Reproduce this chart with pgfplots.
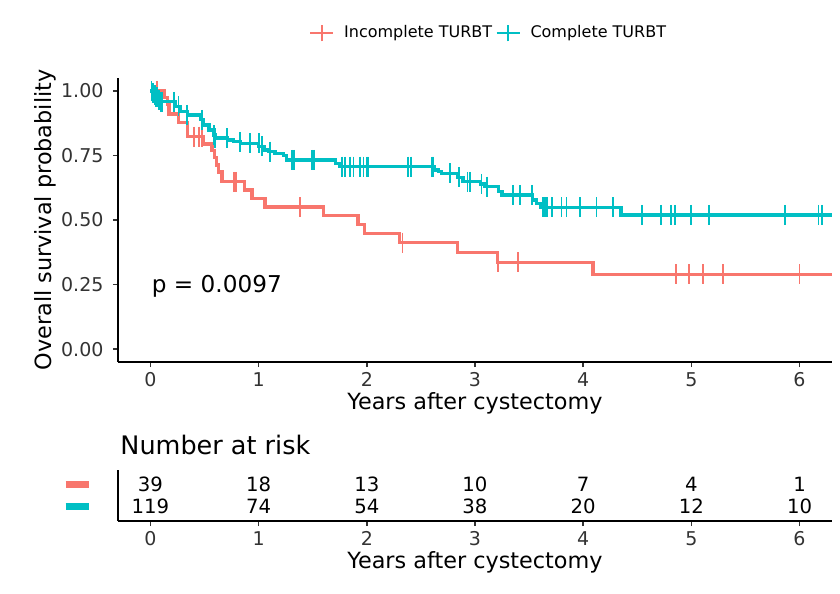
\documentclass[border=0pt]{standalone}
\usepackage{fontspec}
\setmainfont{DejaVu Sans}
\usepackage{pgfplots}
\pgfplotsset{compat=1.18}
\definecolor{cred}{HTML}{F8766D}
\definecolor{cblue}{HTML}{00BFC4}

\begin{document}
\begin{tikzpicture}
\path[use as bounding box] (0,0) rectangle (504pt,-356.4pt);
\pgfplotsset{
  common/.style={
    scale only axis, width=428.4pt,
    xmin=-0.3, xmax=6.3,
    axis x line*=bottom, axis y line*=left,
    axis line style={line width=0.9pt, black, -},
    tick style={line width=0.9pt, black!80},
    tick align=outside, major tick length=3pt,
    xtick={0,1,2,3,4,5,6},
    /pgf/number format/assume math mode=true,
    ticklabel style={font=\fontsize{11.4}{13}\selectfont, text=black!80},
    label style={font=\fontsize{13.4}{16}\selectfont},
    clip=false,
  },
  cens/.style={only marks, mark=|, mark size=6pt, mark options={line width=1.1pt}},
  kmline/.style={const plot, line width=2pt, mark=none},
}
\begin{axis}[common, at={(70.8pt,-217.2pt)}, anchor=south west, height=170.4pt,
  ymin=-0.05, ymax=1.05, ytick={0,0.25,0.5,0.75,1},
  yticklabel style={xshift=-2.2pt, /pgf/number format/.cd, fixed, fixed zerofill, precision=2},
  xlabel={Years after cystectomy}, ylabel={Overall survival probability},
  xlabel style={at={(axis description cs:0.5,-0.144)}, anchor=center},
  ylabel style={at={(axis description cs:-0.102,0.5)}, anchor=center},
  legend style={at={(axis description cs:0.52,1.158)}, anchor=center, draw=none, fill=none,
    legend columns=2, font=\fontsize{9.6}{11}\selectfont, column sep=0pt,
    /tikz/every odd column/.append style={column sep=4pt}},
]
\addlegendimage{legend image code/.code={\draw[cred, line width=1.2pt] (0pt,0pt) -- (13.8pt,0pt); \draw[cred, line width=1.2pt] (6.9pt,-5pt) -- (6.9pt,5pt);}}
\addlegendentry{Incomplete TURBT}
\addlegendimage{legend image code/.code={\draw[cblue, line width=1.2pt] (0pt,0pt) -- (13.8pt,0pt); \draw[cblue, line width=1.2pt] (6.9pt,-5pt) -- (6.9pt,5pt);}}
\addlegendentry{Complete TURBT}

% Incomplete TURBT
\addplot[kmline, cred, forget plot] table {
t s
0 1.000
0.13 0.974
0.16 0.949
0.17 0.910
0.26 0.878
0.34 0.823
0.49 0.795
0.57 0.768
0.59 0.741
0.61 0.713
0.63 0.686
0.66 0.648
0.87 0.616
0.94 0.584
1.06 0.550
1.60 0.517
1.92 0.482
1.98 0.448
2.30 0.412
2.84 0.375
3.21 0.336
4.09 0.290
6.30 0.290
};
% Complete TURBT
\addplot[kmline, cblue, forget plot] table {
t s
0 1.000
0.02 0.992
0.035 0.983
0.05 0.975
0.07 0.966
0.09 0.958
0.23 0.940
0.28 0.920
0.34 0.907
0.46 0.888
0.49 0.868
0.54 0.849
0.58 0.829
0.60 0.817
0.71 0.810
0.77 0.803
0.83 0.797
1.00 0.785
1.05 0.771
1.09 0.765
1.15 0.758
1.23 0.750
1.26 0.733
1.71 0.720
1.75 0.707
2.62 0.694
2.66 0.687
2.69 0.681
2.84 0.665
2.89 0.648
3.05 0.640
3.09 0.629
3.22 0.610
3.25 0.597
3.53 0.578
3.57 0.565
3.61 0.549
4.35 0.520
6.30 0.520
};
\addplot[cens, cred, forget plot] table {
t s
0.06 1.0
0.40 0.823
0.45 0.823
0.48 0.823
0.77 0.648
0.79 0.648
1.385 0.550
2.33 0.412
3.215 0.336
3.40 0.336
4.856 0.290
4.975 0.290
5.11 0.290
5.29 0.290
6.00 0.290
};
\addplot[cens, cblue, forget plot] table {
t s
0.01 1.0
0.025 0.992
0.04 0.983
0.055 0.975
0.065 0.975
0.08 0.966
0.10 0.958
0.11 0.958
0.215 0.958
0.26 0.940
0.34 0.907
0.477 0.888
0.584 0.829
0.60 0.817
0.708 0.817
0.83 0.803
0.923 0.797
1.00 0.797
1.03 0.785
1.108 0.765
1.31 0.733
1.33 0.733
1.49 0.733
1.51 0.733
1.77 0.707
1.80 0.707
1.846 0.707
1.877 0.707
1.94 0.707
1.97 0.707
2.00 0.707
2.015 0.707
2.384 0.707
2.406 0.707
2.60 0.707
2.615 0.707
2.77 0.681
2.855 0.665
2.93 0.648
2.954 0.648
3.06 0.640
3.11 0.629
3.35 0.597
3.415 0.597
3.53 0.597
3.625 0.549
3.646 0.549
3.667 0.549
3.708 0.549
3.80 0.549
3.846 0.549
3.97 0.549
4.123 0.549
4.277 0.549
4.54 0.520
4.717 0.520
4.815 0.520
4.846 0.520
4.994 0.520
5.16 0.520
5.868 0.520
6.175 0.520
6.206 0.520
};
\node[anchor=west, inner sep=0pt, font=\fontsize{13.9}{16}\selectfont] at (axis cs:0.01,0.244) {p = 0.0097};
\end{axis}

\begin{axis}[common, at={(70.8pt,-312.6pt)}, anchor=south west, height=30.6pt,
  ymin=0.32, ymax=2.64, ytick=\empty,
  xlabel={Years after cystectomy},
  xlabel style={at={(axis description cs:0.5,-0.804)}, anchor=center},
]
\addplot[draw=none, mark=none, nodes near coords, point meta=explicit symbolic,
  every node near coord/.append style={anchor=center, font=\fontsize{11.8}{14}\selectfont, text=black}]
  table[meta=n] {
x y n
0 2 39
1 2 18
2 2 13
3 2 10
4 2 7
5 2 4
6 2 1
0 1 119
1 1 74
2 1 54
3 1 38
4 1 20
5 1 12
6 1 10
};
\addplot[cred, line width=4.2pt, mark=none] coordinates {(-0.785,2) (-0.572,2)};
\addplot[cblue, line width=4.2pt, mark=none] coordinates {(-0.785,1) (-0.572,1)};
\node[anchor=west, inner sep=0pt, font=\fontsize{15.3}{18}\selectfont] at (axis description cs:0.003,1.49) {Number at risk};
\end{axis}
\end{tikzpicture}
\end{document}
